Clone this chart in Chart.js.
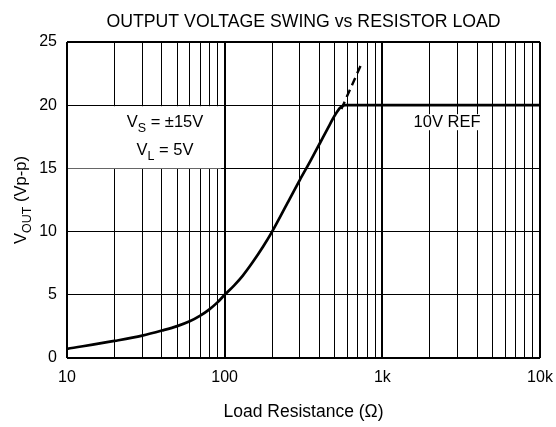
<!DOCTYPE html>
<html><head><meta charset="utf-8">
<script src="https://cdn.jsdelivr.net/npm/chart.js@4/dist/chart.umd.min.js"></script>
<style>html,body{margin:0;padding:0;background:#fff}#wrap{width:556px;height:427px}</style>
</head><body><div id="wrap"><canvas id="c" width="556" height="427"></canvas></div>
<script>
// ---- data ----
const loadOhms = [10, 20, 30, 40, 50, 60, 70, 80, 90, 100, 115, 130, 150, 175, 200, 250, 300, 350, 400, 450, 500, 540, 580, 1000, 10000];
const voutVpp  = [0.72, 1.35, 1.77, 2.17, 2.52, 2.9, 3.35, 3.85, 4.4, 5.0, 5.75, 6.5, 7.55, 8.8, 10.0, 12.25, 14.1, 15.6, 16.95, 18.15, 19.2, 19.8, 20, 20, 20];
const extOhms  = [550, 745];
const extVpp   = [19.7, 23.4];
const xTickValues = [10,20,30,40,50,60,70,80,90,100,200,300,400,500,600,700,800,900,1000,2000,3000,4000,5000,6000,7000,8000,9000,10000];
const xMajorLabels = {10: '10', 100: '100', 1000: '1k', 10000: '10k'};
const yTickValues = [0, 5, 10, 15, 20, 25];
const titleText = 'OUTPUT VOLTAGE SWING vs RESISTOR LOAD';
const xTitleText = 'Load Resistance (\u03A9)';
const yTitleParts = [['V', false], ['OUT', true], [' (Vp-p)', false]];
const noteVs = [['V', false], ['S', true], [' = \u00B115V', false]];
const noteVl = [['V', false], ['L', true], [' = 5V', false]];
const noteRef = '10V REF';

const FONT = '"Liberation Sans", Arial, sans-serif';
const FS = 16;

function drawParts(ctx, parts, x, y, align, fs) {
  const main = fs + 'px ' + FONT, sub = (fs - 4) + 'px ' + FONT;
  let w = 0;
  parts.forEach(([t, s]) => { ctx.font = s ? sub : main; w += ctx.measureText(t).width; });
  let cx = align === 'center' ? x - w / 2 : x;
  ctx.textBaseline = 'alphabetic';
  ctx.textAlign = 'left';
  parts.forEach(([t, s]) => {
    ctx.font = s ? sub : main;
    ctx.fillText(t, cx, s ? y + 5 : y);
    cx += ctx.measureText(t).width;
  });
}

const textPlugin = {
  id: 'texts',
  beforeDatasetsDraw(chart) {
    const ctx = chart.ctx, a = chart.chartArea, xs = chart.scales.x, ys = chart.scales.y;
    ctx.save();
    const y20 = ys.getPixelForValue(20), y15 = ys.getPixelForValue(15);
    ctx.fillStyle = '#fff';
    ctx.fillRect(a.left + 1, y20 + 1, xs.getPixelForValue(95) - a.left - 1, y15 - y20 - 1);
    ctx.fillStyle = '#000';
    const cx = 165;
    drawParts(ctx, noteVs, cx, y20 + 22, 'center', 16.5);
    drawParts(ctx, noteVl, cx, y20 + 50, 'center', 16.5);
    ctx.font = '16.5px ' + FONT;
    const rw = ctx.measureText(noteRef).width;
    const rx = 447, ry = y20 + 22;
    ctx.fillStyle = '#fff';
    ctx.fillRect(rx - rw / 2 - 1, ry - 13, rw + 2, 16);
    ctx.fillStyle = '#000';
    ctx.textAlign = 'center';
    ctx.fillText(noteRef, rx, ry);
    ctx.restore();
  },
  afterDraw(chart) {
    const ctx = chart.ctx, a = chart.chartArea;
    ctx.save();
    ctx.fillStyle = '#000';
    ctx.font = '17.7px ' + FONT;
    ctx.textAlign = 'center';
    ctx.textBaseline = 'middle';
    ctx.fillText(titleText, (a.left + a.right) / 2, 22);
    ctx.font = '17.5px ' + FONT;
    ctx.fillText(xTitleText, (a.left + a.right) / 2, 412);
    ctx.translate(20, (a.top + a.bottom) / 2);
    ctx.rotate(-Math.PI / 2);
    drawParts(ctx, yTitleParts, 0, 6, 'center', 16.5);
    ctx.restore();
  }
};

new Chart(document.getElementById('c'), {
  type: 'line',
  data: {
    datasets: [
      { data: loadOhms.map((x, i) => ({x, y: voutVpp[i]})), borderColor: '#000', borderWidth: 2.7,
        pointRadius: 0, cubicInterpolationMode: 'monotone', fill: false },
      { data: extOhms.map((x, i) => ({x, y: extVpp[i]})), borderColor: '#000', borderWidth: 2.4,
        borderDash: [8, 5], pointRadius: 0, fill: false }
    ]
  },
  options: {
    responsive: false, animation: false, devicePixelRatio: 1,
    layout: { padding: { top: 42, right: 16, left: 0, bottom: 0 } },
    plugins: { legend: { display: false }, title: { display: false }, tooltip: { enabled: false } },
    scales: {
      x: {
        type: 'logarithmic', min: 10, max: 10000,
        afterBuildTicks: s => { s.ticks = xTickValues.map(v => ({ value: v, major: v in xMajorLabels })); },
        afterFit: s => { s.height = 69; s.paddingRight = 0; s.paddingLeft = 0; },
        ticks: { autoSkip: false, maxRotation: 0, color: '#000', padding: 10,
          font: { family: FONT, size: FS }, callback: v => xMajorLabels[v] || '' },
        grid: { color: '#000', drawTicks: false,
          lineWidth: c => (c.tick && xMajorLabels[c.tick.value]) ? 2 : 1 },
        border: { display: false }
      },
      y: {
        min: 0, max: 25,
        afterBuildTicks: s => { s.ticks = yTickValues.map(v => ({ value: v })); },
        afterFit: s => { s.width = 67; s.paddingTop = 0; s.paddingBottom = 0; },
        ticks: { color: '#000', padding: 10, font: { family: FONT, size: FS } },
        grid: { color: '#000', drawTicks: false,
          lineWidth: c => (c.tick && (c.tick.value === 0 || c.tick.value === 25)) ? 2 : 1 },
        border: { display: false }
      }
    }
  },
  plugins: [textPlugin]
});
</script></body></html>
